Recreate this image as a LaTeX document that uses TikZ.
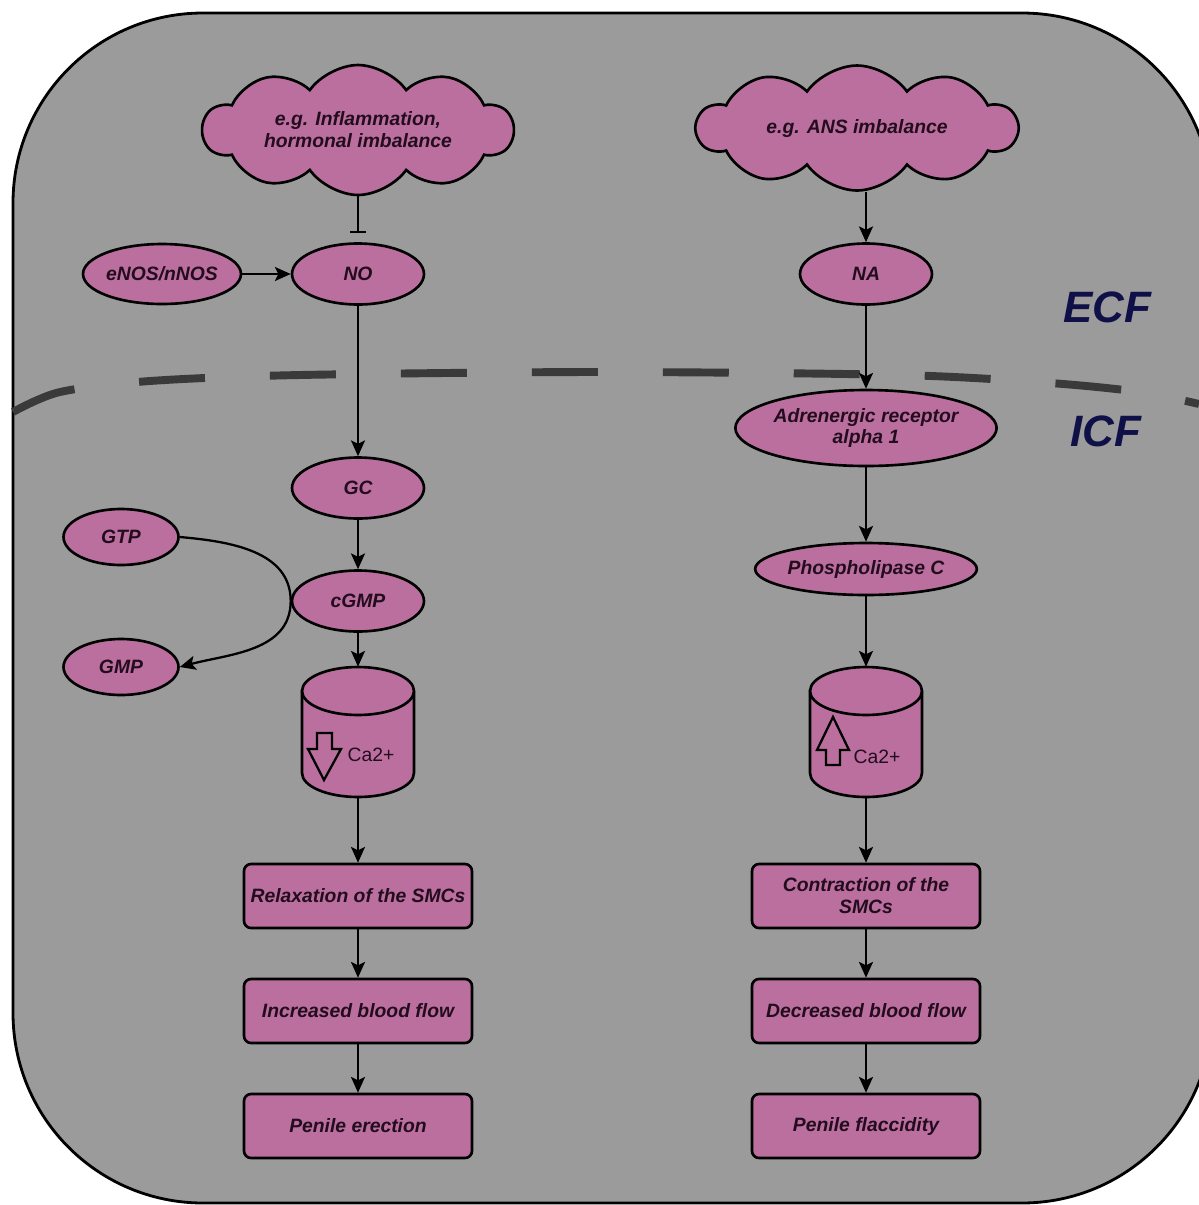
\documentclass[tikz,border=0pt]{standalone}
\usepackage{fontspec}
\setmainfont{Liberation Sans}
\usetikzlibrary{calc,shapes.geometric,shapes.symbols,arrows.meta}
\definecolor{cellgray}{RGB}{155,155,155}
\definecolor{pathpink}{RGB}{187,111,158}
\definecolor{inktext}{RGB}{35,12,30}
\definecolor{regionblue}{RGB}{16,16,72}
\definecolor{membranegray}{RGB}{58,58,58}
\tikzstyle{agent} = [draw, line width=1.5pt, fill=pathpink, text=inktext, font=\bfseries\itshape\fontsize{11}{12.5}\selectfont, inner sep=0pt, align=center]
\tikzstyle{molecule} = [agent, shape=ellipse, minimum width=2.64cm, minimum height=1.22cm]
\tikzstyle{trigger} = [agent, shape=cloud, cloud puffs=10, cloud puff arc=110, aspect=3.2, minimum width=6.2cm, minimum height=2.6cm]
\tikzstyle{cask} = [shape=rectangle, minimum width=2.26cm, minimum height=2.6cm, inner sep=0pt]
\tikzstyle{outcome} = [agent, shape=rectangle, rounded corners=.14cm, minimum width=4.56cm, minimum height=1.28cm]
\tikzstyle{flow} = [line width=1.3pt, -{Stealth[length=9pt,width=8pt,inset=2pt]}]
\tikzstyle{block} = [line width=1.4pt, -{Bar[width=9pt]}, shorten >=5pt]
\tikzstyle{region} = [text=regionblue, font=\bfseries\itshape\fontsize{25}{25}\selectfont]
\tikzstyle{ion} = [text=inktext, font=\fontsize{11}{12.5}\selectfont]
\tikzstyle{level} = [line width=1.3pt, line join=miter]
\tikzstyle{rim} = [line width=1.5pt, fill=pathpink]

\begin{document}
\begin{tikzpicture}[x=0.02cm, y=-0.02cm]
    \useasboundingbox (0,0) rectangle (1199,1205);
    \draw[line width=1.6pt, fill=cellgray, rounded corners=3.8cm] (13,13) rectangle (1212,1203);
    \draw[line width=4.5pt, membranegray, dash pattern=on 1.32cm off 1.3cm] plot[smooth] coordinates {(13,412) (60,392) (150,381) (300,375) (600,372) (900,375) (1050,383) (1140,392) (1199,404)};
    \draw (1107,307) node[region] (ecf) {ECF};
    \draw (1106,431) node[region] (icf) {ICF};

    \draw (358,130) node[trigger] (infl) {e.g. Inflammation,\\hormonal imbalance};
    \draw (857,128) node[trigger, minimum width=6.4cm, minimum height=2.5cm] (ans) {e.g. ANS imbalance};
    \draw (162,274) node[molecule, minimum width=2.62cm, minimum height=1.2cm] (enos) {eNOS/nNOS};
    \draw (358,274) node[molecule] (no) {NO};
    \draw (866,274) node[molecule] (na) {NA};
    \draw (358,488) node[molecule] (gc) {GC};
    \draw (866,428) node[molecule, minimum width=4.62cm, minimum height=1.52cm] (adr) {Adrenergic receptor\\alpha 1};
    \draw (866,569) node[molecule, minimum width=4cm, minimum height=1.04cm] (plc) {Phospholipase C};
    \draw (121,537) node[molecule, minimum width=2.3cm, minimum height=1.12cm] (gtp) {GTP};
    \draw (358,601) node[molecule] (cgmp) {cGMP};
    \draw (121,667) node[molecule, minimum width=2.3cm, minimum height=1.12cm] (gmp) {GMP};

    \draw (358,732) node[cask] (caL) {};
    \draw[rim] (302,691) -- (302,773) arc[start angle=180, end angle=360, x radius=1.12cm, y radius=.48cm] -- (414,691) arc[start angle=0, end angle=180, x radius=1.12cm, y radius=.48cm] -- cycle;
    \draw[rim] (302,691) arc[start angle=180, end angle=360, x radius=1.12cm, y radius=.48cm];
    \draw (866,732) node[cask] (caR) {};
    \draw[rim] (810,691) -- (810,773) arc[start angle=180, end angle=360, x radius=1.12cm, y radius=.48cm] -- (922,691) arc[start angle=0, end angle=180, x radius=1.12cm, y radius=.48cm] -- cycle;
    \draw[rim] (810,691) arc[start angle=180, end angle=360, x radius=1.12cm, y radius=.48cm];
    \draw (371,755) node[ion] (ionL) {Ca2+};
    \draw (877,757) node[ion] (ionR) {Ca2+};
    \draw[level] (317,733) -- (332,733) -- (332,749) -- (341,749) -- (324,780) -- (308,749) -- (317,749) -- cycle;
    \draw[level] (833,717) -- (849,750) -- (840,750) -- (840,765) -- (826,765) -- (826,750) -- (817,750) -- cycle;

    \draw (358,896) node[outcome] (relax) {Relaxation of the SMCs};
    \draw (358,1011) node[outcome] (incr) {Increased blood flow};
    \draw (358,1126) node[outcome] (erec) {Penile erection};
    \draw (866,896) node[outcome] (contr) {Contraction of the\\SMCs};
    \draw (866,1011) node[outcome] (decr) {Decreased blood flow};
    \draw (866,1126) node[outcome] (flac) {Penile flaccidity};

    \draw [block] (infl) -- (no);
    \draw [flow] (enos) -- (no);
    \draw [flow] (no) -- (gc);
    \draw [flow] (gc) -- (cgmp);
    \draw [flow] (cgmp) -- (caL);
    \draw [flow] (caL) -- (relax);
    \draw [flow] (relax) -- (incr);
    \draw [flow] (incr) -- (erec);
    \draw [flow] (gtp.east) to[out=-5,in=90] (cgmp.west) to[out=-90,in=15] (gmp.east);
    \draw [flow] (na |- ans.south) -- (na);
    \draw [flow] (na) -- (adr);
    \draw [flow] (adr) -- (plc);
    \draw [flow] (plc) -- (caR);
    \draw [flow] (caR) -- (contr);
    \draw [flow] (contr) -- (decr);
    \draw [flow] (decr) -- (flac);
\end{tikzpicture}
\end{document}
